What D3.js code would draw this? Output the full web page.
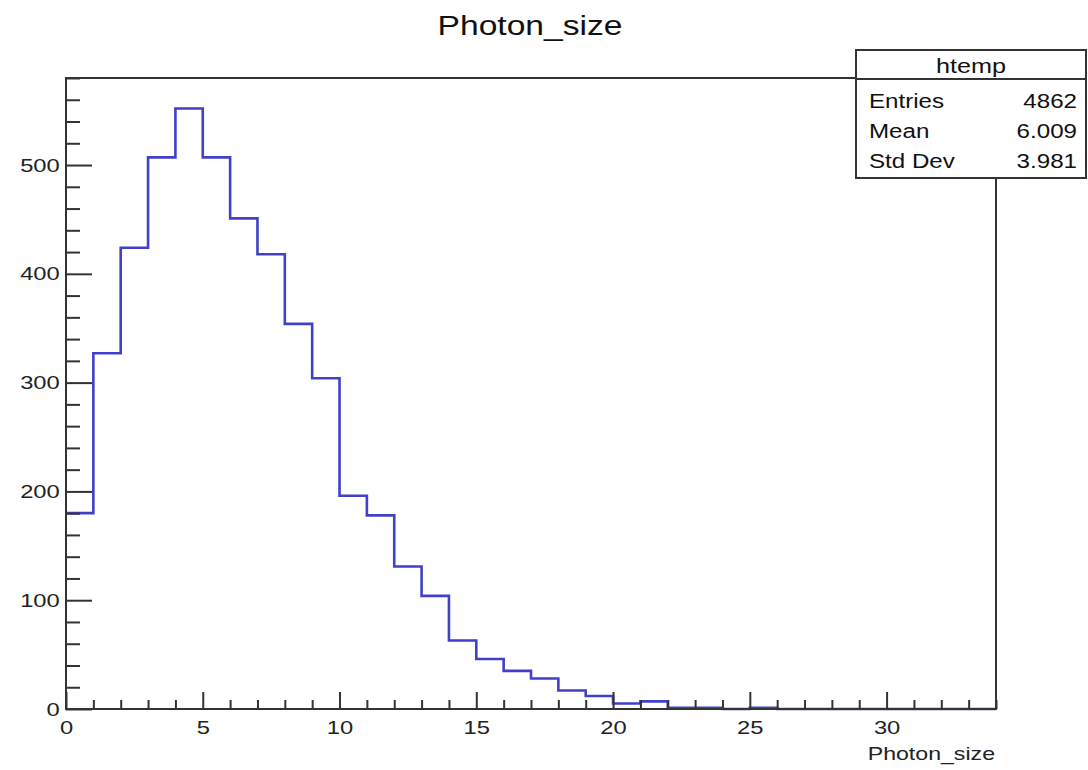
<!DOCTYPE html>
<html>
<head>
<meta charset="utf-8">
<script src="https://cdn.jsdelivr.net/npm/d3@7"></script>
<style>
  body { margin: 0; background: #fff; }
  svg { display: block; font-family: "Liberation Sans", Arial, Helvetica, sans-serif; }
</style>
</head>
<body>
<svg id="chart" width="1088" height="770"></svg>
<script>
// histogram contents, one bin per unit starting at 0
var binStart = 0;
var binWidth = 1;
var counts = [180, 327, 424, 507, 552, 507, 451, 418, 354, 304,
              196, 178, 131, 104, 63, 46, 35, 28, 17, 12,
              5, 7, 1, 1, 0, 1, 0, 0, 0, 0, 0, 0, 0, 0];

var xMajorTicks = [0, 5, 10, 15, 20, 25, 30];
var yMajorTicks = [0, 100, 200, 300, 400, 500];

var statNames = ['Entries', 'Mean', 'Std Dev'];
var statValues = ['4862', '6.009', '3.981'];

var svg = d3.select('#chart');
var W = 1088, H = 770;

var x = d3.scaleLinear().domain([0, 34]).range([66, 996]);
var y = d3.scaleLinear().domain([0, 580]).range([709, 78]);

// the picture's text is stretched sideways
var sx = 1.25;

// title
svg.append('text')
    .attr('transform', 'translate(530,35) scale(1.2,1)')
    .attr('text-anchor', 'middle')
    .attr('font-size', 28)
    .attr('fill', '#111')
    .text('Photon_size');

// histogram as a step line
var pts = [];
counts.forEach(function (c, i) {
    var lo = binStart + i * binWidth;
    pts.push([lo, c]);
    pts.push([lo + binWidth, c]);
});
var line = d3.line()
    .x(function (d) { return x(d[0]); })
    .y(function (d) { return y(d[1]); });

svg.append('path')
    .attr('d', line(pts))
    .attr('fill', 'none')
    .attr('stroke', '#4040c8')
    .attr('stroke-width', 2.6);

// axes: ticks point inward
var xMinor = d3.range(0, 35, 1).filter(function (v) { return v % 5 != 0; });
var yMinor = d3.range(0, 581, 20).filter(function (v) { return v % 100 != 0; });

var gx = svg.append('g').attr('transform', 'translate(0,709)');
gx.call(d3.axisBottom(x).tickValues(xMinor).tickSizeInner(-9).tickSizeOuter(0).tickFormat(''));
gx.call(function (g) { g.select('.domain').remove(); });
var gx2 = svg.append('g').attr('transform', 'translate(0,709)');
gx2.call(d3.axisBottom(x).tickValues(xMajorTicks).tickSizeInner(-17).tickSizeOuter(0).tickPadding(12));
gx2.select('.domain').remove();

var gy = svg.append('g').attr('transform', 'translate(66,0)');
gy.call(d3.axisLeft(y).tickValues(yMinor).tickSizeInner(-14).tickSizeOuter(0).tickFormat(''));
gy.select('.domain').remove();
var gy2 = svg.append('g').attr('transform', 'translate(66,0)');
gy2.call(d3.axisLeft(y).tickValues(yMajorTicks).tickSizeInner(-26).tickSizeOuter(0).tickPadding(5));
gy2.select('.domain').remove();

svg.selectAll('.tick line').attr('stroke', '#333').attr('stroke-width', 2);
svg.selectAll('.tick text')
    .attr('font-size', 19)
    .attr('font-family', '"Liberation Sans", Arial, sans-serif')
    .attr('fill', '#222')
    .attr('transform', 'scale(' + sx + ',1)');

// frame on top of the histogram
svg.append('rect')
    .attr('x', x(0)).attr('y', y(580))
    .attr('width', x(34) - x(0)).attr('height', y(0) - y(580))
    .attr('fill', 'none')
    .attr('stroke', '#333')
    .attr('stroke-width', 2);

// x axis title
svg.append('text')
    .attr('transform', 'translate(995,760) scale(' + sx + ',1)')
    .attr('text-anchor', 'end')
    .attr('font-size', 18.5)
    .attr('fill', '#222')
    .text('Photon_size');

// stats box
var box = svg.append('g');
box.append('rect')
    .attr('x', 856).attr('y', 50).attr('width', 230).attr('height', 128)
    .attr('fill', '#fff').attr('stroke', '#333').attr('stroke-width', 2);
box.append('line')
    .attr('x1', 856).attr('x2', 1086).attr('y1', 79).attr('y2', 79)
    .attr('stroke', '#333').attr('stroke-width', 2);
box.append('text')
    .attr('transform', 'translate(971,73) scale(1.2,1)')
    .attr('text-anchor', 'middle')
    .attr('font-size', 21)
    .attr('fill', '#111')
    .text('htemp');
statNames.forEach(function (n, i) {
    var by = 108 + i * 30;
    box.append('text')
        .attr('transform', 'translate(869,' + by + ') scale(1.15,1)')
        .attr('font-size', 21)
        .attr('fill', '#111')
        .text(n);
    box.append('text')
        .attr('transform', 'translate(1077,' + by + ') scale(1.15,1)')
        .attr('text-anchor', 'end')
        .attr('font-size', 21)
        .attr('fill', '#111')
        .text(statValues[i]);
});
</script>
</body>
</html>
